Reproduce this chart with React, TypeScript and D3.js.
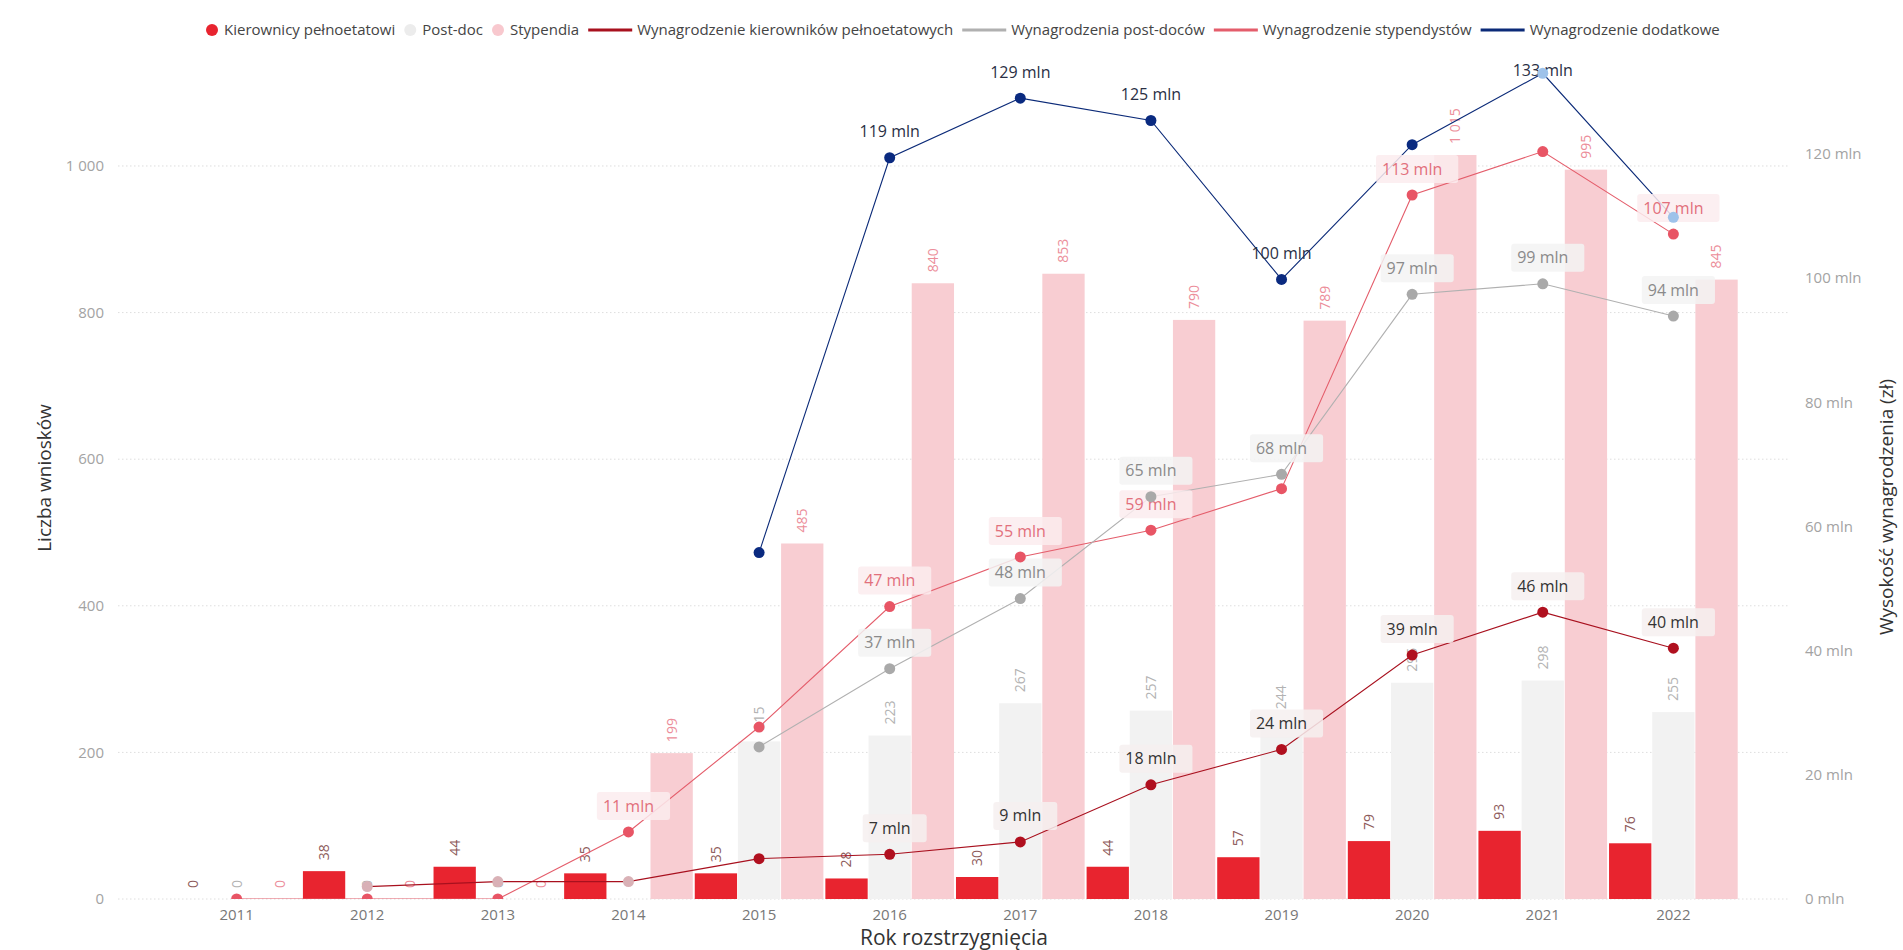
import React, { useEffect, useRef } from "react";
import * as d3 from "d3";

// ---------- data ----------
const years = [2011, 2012, 2013, 2014, 2015, 2016, 2017, 2018, 2019, 2020, 2021, 2022];
const kierownicyCount: (number | null)[] = [0, 38, 44, 35, 35, 28, 30, 44, 57, 79, 93, 76];
const postdocCount: (number | null)[] = [0, 0, 0, null, 215, 223, 267, 257, 244, 295, 298, 255];
const stypendiaCount: (number | null)[] = [0, 0, 0, 199, 485, 840, 853, 790, 789, 1015, 995, 845];

const wynKierownikow: (number | null)[] = [null, 2.0, 2.8, 2.8, 6.5, 7.2, 9.2, 18.4, 24.1, 39.3, 46.2, 40.4];
const wynPostdoc: (number | null)[] = [null, null, null, null, 24.5, 37.1, 48.4, 64.8, 68.4, 97.4, 99.1, 93.9];
const wynStypendystow: (number | null)[] = [0, 0, 0, 10.8, 27.7, 47.1, 55.1, 59.4, 66.1, 113.4, 120.4, 107.1];
const wynDodatkowe: (number | null)[] = [null, null, null, null, 55.8, 119.4, 129.0, 125.4, 99.8, 121.5, 133.0, 109.8];

const leftTicks = [0, 200, 400, 600, 800, 1000];
const rightTicks = [0, 20, 40, 60, 80, 100, 120];

// years whose line data label is shown
const labeledKier = [2016, 2017, 2018, 2019, 2020, 2021, 2022];
const labeledPost = [2016, 2017, 2018, 2019, 2020, 2021, 2022];
const labeledStyp = [2014, 2016, 2017, 2018, 2020, 2022];
const labeledDod = [2016, 2017, 2018, 2019, 2021];

const legendLabels = [
  "Kierownicy pełnoetatowi",
  "Post-doc",
  "Stypendia",
  "Wynagrodzenie kierowników pełnoetatowych",
  "Wynagrodzenia post-doców",
  "Wynagrodzenie stypendystów",
  "Wynagrodzenie dodatkowe",
];

const FONT = "'Segoe UI', 'Open Sans', sans-serif";

const fmtNum = (v: number) => {
  const s = String(Math.round(v));
  return s.replace(/\B(?=(\d{3})+(?!\d))/g, "\u00a0");
};

export default function App() {
  const ref = useRef<SVGSVGElement | null>(null);

  useEffect(() => {
    document.body.style.margin = "0";
    document.body.style.overflow = "hidden";
    const svg = d3.select(ref.current);
    svg.selectAll("*").remove();

    const plotTop = 55, plotBottom = 899;
    const gridLeft = 118, gridRight = 1790;

    const x0 = d3.scaleBand<number>().domain(years).range([172.3, 1737.7]).paddingInner(0.015).paddingOuter(0);
    const bw = x0.bandwidth();
    const x1 = d3.scaleBand<string>().domain(["k", "p", "s"]).range([0, bw]).paddingInner(0.02);
    const cx = (y: number) => (x0(y) as number) + bw / 2;

    const yL = d3.scaleLinear().domain([0, 1151.4]).range([plotBottom, plotTop]);
    const yR = d3.scaleLinear().domain([0, 135.95]).range([plotBottom, plotTop]);

    const defs = svg.append("defs");
    defs.append("clipPath").attr("id", "plotclip")
      .append("rect").attr("x", gridLeft).attr("y", 40).attr("width", gridRight - gridLeft).attr("height", plotBottom - 40);

    // gridlines
    svg.append("g").selectAll("line").data(leftTicks).join("line")
      .attr("x1", gridLeft).attr("x2", gridRight)
      .attr("y1", (d) => yL(d)).attr("y2", (d) => yL(d))
      .attr("stroke", "#dedede").attr("stroke-width", 1).attr("stroke-dasharray", "1.5 2.5");

    // left ticks
    svg.append("g").selectAll("text").data(leftTicks).join("text")
      .attr("x", 104).attr("y", (d) => yL(d)).attr("dy", "0.35em")
      .attr("text-anchor", "end").attr("font-family", FONT).attr("font-size", 15)
      .attr("fill", "#a3a3a3").text((d) => fmtNum(d));

    // right ticks
    svg.append("g").selectAll("text").data(rightTicks).join("text")
      .attr("x", 1805).attr("y", (d) => yR(d)).attr("dy", "0.35em")
      .attr("text-anchor", "start").attr("font-family", FONT).attr("font-size", 15)
      .attr("fill", "#a3a3a3").text((d) => `${d} mln`);

    // x ticks
    svg.append("g").selectAll("text").data(years).join("text")
      .attr("x", (d) => cx(d)).attr("y", 915).attr("dy", "0.35em")
      .attr("text-anchor", "middle").attr("font-family", FONT).attr("font-size", 15)
      .attr("fill", "#777").text((d) => String(d));

    // axis titles
    svg.append("text").attr("x", 954).attr("y", 938).attr("dy", "0.35em")
      .attr("text-anchor", "middle").attr("font-family", FONT).attr("font-size", 21)
      .attr("fill", "#333").text("Rok rozstrzygnięcia");
    svg.append("text").attr("transform", "translate(44,478) rotate(-90)").attr("dy", "0.35em")
      .attr("text-anchor", "middle").attr("font-family", FONT).attr("font-size", 19)
      .attr("fill", "#333").text("Liczba wniosków");
    svg.append("text").attr("transform", "translate(1886,507) rotate(-90)").attr("dy", "0.35em")
      .attr("text-anchor", "middle").attr("font-family", FONT).attr("font-size", 19)
      .attr("fill", "#333").text("Wysokość wynagrodzenia (zł)");

    // bars
    const barSeries = [
      { key: "k", vals: kierownicyCount, fill: "#e8242f", label: "#8e5b5b" },
      { key: "p", vals: postdocCount, fill: "#f2f2f2", label: "#b3b3b3" },
      { key: "s", vals: stypendiaCount, fill: "#f8cdd2", label: "#ec8e9a" },
    ];
    const gBars = svg.append("g");
    const gBarLabels = svg.append("g");
    barSeries.forEach((s) => {
      const pts = years.map((y, i) => ({ y, v: s.vals[i] })).filter((d) => d.v !== null) as { y: number; v: number }[];
      gBars.selectAll(null).data(pts).join("rect")
        .attr("x", (d) => (x0(d.y) as number) + (x1(s.key) as number))
        .attr("width", x1.bandwidth())
        .attr("y", (d) => yL(d.v))
        .attr("height", (d) => plotBottom - yL(d.v))
        .attr("fill", s.fill);
      gBarLabels.selectAll(null).data(pts).join("text")
        .attr("transform", (d) => {
          const bx = (x0(d.y) as number) + (x1(s.key) as number) + x1.bandwidth() / 2;
          return `translate(${bx},${yL(d.v) - 11}) rotate(-90)`;
        })
        .attr("dy", "0.35em").attr("text-anchor", "start")
        .attr("font-family", FONT).attr("font-size", 14).attr("fill", s.label)
        .text((d) => fmtNum(d.v));
    });

    // lines
    const lineSeries = [
      { vals: wynStypendystow, color: "#e45d6b", dot: "#e85565", text: "#e2707c", box: "#fcecee", labeled: labeledStyp, dotOverride: {} as Record<number, string> },
      { vals: wynPostdoc, color: "#b0b0b0", dot: "#a9a9a9", text: "#8a8a8a", box: "#f3f3f3", labeled: labeledPost, dotOverride: {} as Record<number, string> },
      { vals: wynKierownikow, color: "#a8101e", dot: "#b0101f", text: "#333", box: "#f6f0f0", labeled: labeledKier, dotOverride: { 2012: "#d9b1b6", 2013: "#d9b1b6", 2014: "#d9b1b6" } as Record<number, string> },
      { vals: wynDodatkowe, color: "#0b2a78", dot: "#0a2a80", text: "#2a2f45", box: null, labeled: labeledDod, dotOverride: { 2021: "#9ec2ea", 2022: "#9ec2ea" } as Record<number, string> },
    ];
    const gLines = svg.append("g").attr("clip-path", "url(#plotclip)");
    lineSeries.forEach((s) => {
      const pts = years.map((y, i) => ({ y, v: s.vals[i] }));
      const line = d3.line<{ y: number; v: number | null }>()
        .defined((d) => d.v !== null)
        .x((d) => cx(d.y)).y((d) => yR(d.v as number));
      gLines.append("path").attr("d", line(pts) as string)
        .attr("fill", "none").attr("stroke", s.color).attr("stroke-width", 1.1);
    });

    // line labels
    const gLabels = svg.append("g");
    lineSeries.forEach((s) => {
      years.forEach((y, i) => {
        const v = s.vals[i];
        if (v === null || !s.labeled.includes(y)) return;
        const px = cx(y);
        const py = Math.max(yR(v) - 26, 70);
        const g = gLabels.append("g");
        const rect = g.append("rect");
        const t = g.append("text").attr("x", px).attr("y", py).attr("dy", "0.35em")
          .attr("text-anchor", "middle").attr("font-family", FONT).attr("font-size", 16)
          .attr("fill", s.text).text(`${Math.round(v)} mln`);
        if (s.box) {
          const bb = (t.node() as SVGTextElement).getBBox();
          rect.attr("x", bb.x - 6).attr("y", py - 14).attr("width", bb.width + 22).attr("height", 28)
            .attr("rx", 3).attr("fill", s.box).attr("fill-opacity", 0.85);
        }
      });
    });

    // dots (on top)
    const gDots = svg.append("g").attr("clip-path", "url(#plotclip)");
    lineSeries.forEach((s) => {
      const pts = years.map((y, i) => ({ y, v: s.vals[i] })).filter((d) => d.v !== null) as { y: number; v: number }[];
      gDots.selectAll(null).data(pts).join("circle")
        .attr("cx", (d) => cx(d.y)).attr("cy", (d) => yR(d.v)).attr("r", 5.5)
        .attr("fill", (d) => s.dotOverride[d.y] || s.dot);
    });

    // legend
    const legend = svg.append("g").attr("transform", "translate(0,30)");
    const items = [
      { kind: "dot", color: "#e8242f" },
      { kind: "dot", color: "#ececec" },
      { kind: "dot", color: "#f8c8ce" },
      { kind: "line", color: "#a8101e" },
      { kind: "line", color: "#b0b0b0" },
      { kind: "line", color: "#e45d6b" },
      { kind: "line", color: "#0b2a78" },
    ];
    let lx = 206;
    items.forEach((it, i) => {
      if (it.kind === "dot") {
        legend.append("circle").attr("cx", lx + 6).attr("cy", 0).attr("r", 6).attr("fill", it.color);
        lx += 18;
      } else {
        legend.append("line").attr("x1", lx).attr("x2", lx + 44).attr("y1", 0).attr("y2", 0)
          .attr("stroke", it.color).attr("stroke-width", 3);
        lx += 49;
      }
      const t = legend.append("text").attr("x", lx).attr("y", 0).attr("dy", "0.35em")
        .attr("font-family", FONT).attr("font-size", 15).attr("fill", "#444").text(legendLabels[i]);
      lx += (t.node() as SVGTextElement).getComputedTextLength() + 9;
    });
  }, []);

  return (
    <svg ref={ref} width={1903} height={950}
      style={{ position: "absolute", left: 0, top: 0, background: "#fff", display: "block" }} />
  );
}
